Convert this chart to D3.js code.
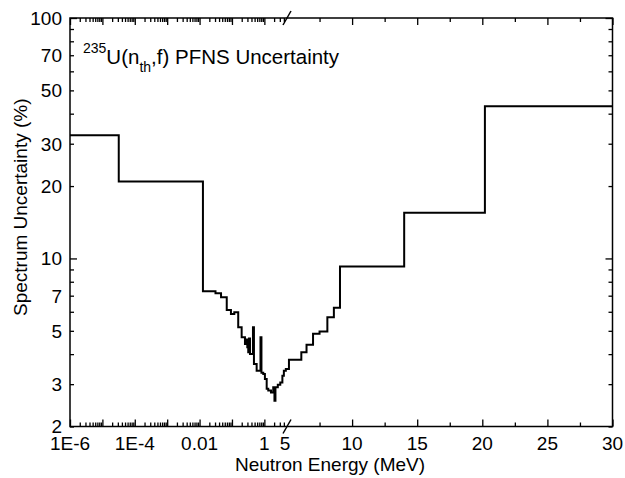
<!DOCTYPE html>
<html><head><meta charset="utf-8">
<script src="https://cdn.jsdelivr.net/npm/d3@7"></script>
<style>
body{margin:0;background:#fff}
text{font-family:"Liberation Sans",Arial,Helvetica,sans-serif;fill:#000}
</style>
</head><body>
<svg id="chart" width="625" height="478"></svg>
<script>
// ---- data (bin lower edges in MeV, last entry is upper edge of final bin) ----
const energyEdges = [1e-6, 3.2e-5, 0.0127, 0.031, 0.046, 0.069, 0.093, 0.118, 0.156, 0.199, 0.252, 0.281, 0.297,
  0.318, 0.335, 0.36, 0.445, 0.477, 0.578, 0.759, 0.813, 0.925, 1.04, 1.18, 1.32, 1.6, 1.88, 2.05, 2.2, 2.6,
  3.1, 3.6, 4.0, 4.6, 5.15, 6.1, 6.5, 7.0, 7.5, 8.1, 8.6, 9.07, 14.0, 20.2, 30];
const uncertainty = [32.5, 20.9, 7.31, 7.17, 6.9, 6.11, 5.88, 5.97, 5.17, 4.70, 4.41, 4.6, 4.27,
  4.07, 4.64, 4.0, 5.17, 3.64, 3.41, 4.70, 3.35, 3.31, 3.15, 2.87, 2.82, 2.77, 2.91, 2.56, 2.91, 2.98,
  3.05, 3.25, 3.41, 3.47, 3.79, 4.07, 4.38, 4.86, 4.97, 5.69, 6.24, 9.26, 15.5, 43.0];

const yTicks = [2,3,4,5,6,7,8,9,10,20,30,40,50,60,70,80,90,100];
const yMajorTicks = [10,100];
const yTickLabels = [2,3,5,7,10,20,30,50,70,100];
const xLogMajor = [1e-6,1e-5,1e-4,1e-3,1e-2,1e-1,1];
const xLogLabelValues = [1e-6,1e-4,1e-2,1];
const xLogLabelText = ["1E-6","1E-4","0.01","1"];
const xLinMajor = [5,10,15,20,25,30];
const xLinMinor = [7.5,12.5,17.5,22.5,27.5];
const xLinLabels = [5,10,15,20,25,30];
const breakE = 5;

// ---- layout ----
const L = 70, R = 612.5, T = 18, B = 426.5, XB = 287;
const svg = d3.select("#chart");
const xLog = d3.scaleLog().domain([1e-6, breakE]).range([L, XB]);
const xLin = d3.scaleLinear().domain([breakE, 30]).range([XB, R]);
const X = e => e <= breakE ? xLog(e) : xLin(e);
const y = d3.scaleLog().domain([2,100]).range([B, T]);

const xLogMinor = [];
xLogMajor.forEach(d => { for (let k=2;k<=9;k++){ const v=d*k; if (v < breakE) xLogMinor.push(v);} });

const majorLen = 7, minorLen = 4;
function drawTicks(g, axisFn, scale, values, len){
  const ax = axisFn(scale).tickValues(values).tickSize(len).tickFormat("");
  g.call(ax);
  g.select(".domain").remove();
  g.selectAll(".tick line").attr("stroke","#000").attr("stroke-width",1.3);
}
function ticksGroup(tr){ return svg.append("g").attr("transform", tr); }

// bottom (inward => negative size)
drawTicks(ticksGroup(`translate(0,${B})`), d3.axisBottom, xLog, xLogMajor, -majorLen);
drawTicks(ticksGroup(`translate(0,${B})`), d3.axisBottom, xLog, xLogMinor, -minorLen);
drawTicks(ticksGroup(`translate(0,${B})`), d3.axisBottom, xLin, xLinMajor.filter(d=>d>breakE), -majorLen);
drawTicks(ticksGroup(`translate(0,${B})`), d3.axisBottom, xLin, xLinMinor, -minorLen);
// top
drawTicks(ticksGroup(`translate(0,${T})`), d3.axisTop, xLog, xLogMajor, -majorLen);
drawTicks(ticksGroup(`translate(0,${T})`), d3.axisTop, xLog, xLogMinor, -minorLen);
drawTicks(ticksGroup(`translate(0,${T})`), d3.axisTop, xLin, xLinMajor.filter(d=>d>breakE), -majorLen);
drawTicks(ticksGroup(`translate(0,${T})`), d3.axisTop, xLin, xLinMinor, -minorLen);
// left / right
const yMinor = yTicks.filter(d => !yMajorTicks.includes(d));
drawTicks(ticksGroup(`translate(${L},0)`), d3.axisLeft, y, yMajorTicks, -majorLen);
drawTicks(ticksGroup(`translate(${L},0)`), d3.axisLeft, y, yMinor, -minorLen);
drawTicks(ticksGroup(`translate(${R},0)`), d3.axisRight, y, yMajorTicks, -majorLen);
drawTicks(ticksGroup(`translate(${R},0)`), d3.axisRight, y, yMinor, -minorLen);

// frame
svg.append("rect").attr("x",L).attr("y",T).attr("width",R-L).attr("height",B-T)
  .attr("fill","none").attr("stroke","#000").attr("stroke-width",1.5);

// break marks
[B, T].forEach(yy => {
  svg.append("line").attr("x1",XB-4).attr("y1",yy+7).attr("x2",XB+4).attr("y2",yy-7)
    .attr("stroke","#000").attr("stroke-width",1.5);
});

// tick labels
const fs = 19;
svg.append("g").selectAll("text").data(yTickLabels).join("text")
  .attr("x", L-8).attr("y", d => y(d)).attr("dy","0.36em")
  .attr("text-anchor","end").attr("font-size",fs).text(d => d);
svg.append("g").selectAll("text").data(xLogLabelValues).join("text")
  .attr("x", d => xLog(d)).attr("y", 450).attr("text-anchor","middle")
  .attr("font-size",fs).text((d,i) => xLogLabelText[i]);
svg.append("g").selectAll("text").data(xLinLabels).join("text")
  .attr("x", d => xLin(d) - (d===breakE?2:0)).attr("y", 450).attr("text-anchor","middle")
  .attr("font-size",fs).text(d => d);

// axis titles
svg.append("text").attr("x",330).attr("y",471).attr("text-anchor","middle")
  .attr("font-size",fs).text("Neutron Energy (MeV)");
svg.append("text").attr("transform",`translate(27,${(T+B)/2 - 15}) rotate(-90)`)
  .attr("text-anchor","middle").attr("font-size",fs).text("Spectrum Uncertainty (%)");

// chart title
const t = svg.append("text").attr("x",83).attr("y",64).attr("font-size",20.5);
t.append("tspan").attr("font-size",14).attr("dy",-11).text("235");
t.append("tspan").attr("dy",11).text("U(n");
t.append("tspan").attr("font-size",14).attr("dy",8).text("th");
t.append("tspan").attr("dy",-8).text(",f) PFNS Uncertainty");

// data line
const pts = energyEdges.map((e,i) => ({e, v: uncertainty[Math.min(i, uncertainty.length-1)]}));
const line = d3.line().x(d => X(d.e)).y(d => y(d.v)).curve(d3.curveStepAfter);
svg.append("path").datum(pts).attr("d", line).attr("fill","none")
  .attr("stroke","#000").attr("stroke-width",2).attr("stroke-linejoin","miter");
</script>
</body></html>
